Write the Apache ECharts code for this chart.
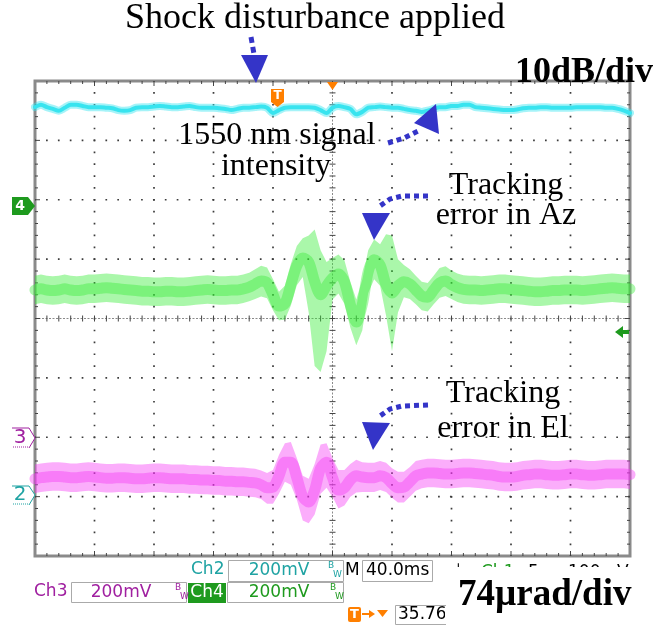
<!DOCTYPE html>
<html><head><meta charset="utf-8">
<script src="https://cdn.jsdelivr.net/npm/echarts@6/dist/echarts.min.js"></script>
<style>html,body{margin:0;padding:0;background:#fff}#c{width:657px;height:628px}</style>
</head><body><div id="c"></div><script>
// time in divisions (40 ms/div), -5..5
const timeDiv = [-5,-4.9,-4.8,-4.7,-4.6,-4.5,-4.4,-4.3,-4.2,-4.1,-4,-3.9,-3.8,-3.7,-3.6,-3.5,-3.4,-3.3,-3.2,-3.1,-3,-2.9,-2.8,-2.7,-2.6,-2.5,-2.4,-2.3,-2.2,-2.1,-2,-1.9,-1.8,-1.7,-1.6,-1.5,-1.4,-1.3,-1.2,-1.1,-1,-0.9,-0.8,-0.7,-0.6,-0.5,-0.4,-0.3,-0.2,-0.1,0,0.1,0.2,0.3,0.4,0.5,0.6,0.7,0.8,0.9,1,1.1,1.2,1.3,1.4,1.5,1.6,1.7,1.8,1.9,2,2.1,2.2,2.3,2.4,2.5,2.6,2.7,2.8,2.9,3,3.1,3.2,3.3,3.4,3.5,3.6,3.7,3.8,3.9,4,4.1,4.2,4.3,4.4,4.5,4.6,4.7,4.8,4.9,5];
// graticule: major divisions
const gridDivX = [-4,-3,-2,-1,0,1,2,3,4];
const gridDivY = [-3,-2,-1,0,1,2,3];

// 1550 nm signal intensity (divisions)
const cyanLevel = [3.56,3.60,3.56,3.53,3.50,3.55,3.60,3.60,3.58,3.56,3.56,3.56,3.55,3.54,3.51,3.50,3.51,3.55,3.56,3.56,3.57,3.58,3.57,3.56,3.56,3.57,3.58,3.56,3.55,3.55,3.55,3.54,3.53,3.51,3.53,3.55,3.55,3.56,3.57,3.55,3.46,3.51,3.55,3.56,3.56,3.56,3.56,3.55,3.51,3.46,3.55,3.58,3.56,3.53,3.44,3.48,3.55,3.56,3.57,3.56,3.55,3.55,3.53,3.51,3.50,3.48,3.50,3.53,3.56,3.56,3.58,3.58,3.60,3.60,3.56,3.55,3.54,3.53,3.52,3.51,3.51,3.52,3.54,3.55,3.55,3.56,3.56,3.55,3.55,3.55,3.55,3.56,3.56,3.56,3.56,3.56,3.55,3.55,3.53,3.50,3.46];

// Tracking error in Az (Ch4): dense centre and outer envelope (divisions)
const azCenter = [0.48,0.50,0.48,0.47,0.48,0.50,0.48,0.47,0.48,0.50,0.50,0.51,0.52,0.51,0.50,0.49,0.48,0.47,0.46,0.46,0.45,0.45,0.46,0.46,0.45,0.45,0.46,0.47,0.48,0.49,0.48,0.47,0.47,0.48,0.48,0.50,0.53,0.58,0.63,0.60,0.40,0.21,0.25,0.57,0.89,1.02,0.95,0.62,0.40,0.55,0.68,0.75,0.62,0.23,-0.06,0.23,0.79,0.99,0.90,0.57,0.43,0.55,0.62,0.58,0.48,0.38,0.36,0.48,0.60,0.63,0.57,0.52,0.49,0.48,0.48,0.47,0.48,0.49,0.50,0.50,0.49,0.48,0.47,0.46,0.45,0.45,0.46,0.47,0.47,0.48,0.48,0.48,0.47,0.48,0.49,0.50,0.51,0.52,0.51,0.50,0.50];
const azUpper = [0.72,0.74,0.72,0.71,0.72,0.74,0.72,0.71,0.72,0.74,0.74,0.75,0.76,0.75,0.74,0.73,0.72,0.71,0.70,0.70,0.69,0.69,0.70,0.70,0.69,0.69,0.70,0.71,0.72,0.73,0.72,0.71,0.71,0.72,0.72,0.74,0.77,0.83,0.89,0.86,0.66,0.45,0.55,0.92,1.22,1.35,1.40,1.50,1.15,0.95,1.02,1.08,0.98,0.62,0.32,0.65,1.15,1.33,1.25,1.42,1.40,1.00,0.90,0.83,0.72,0.62,0.60,0.72,0.85,0.88,0.81,0.76,0.73,0.72,0.72,0.71,0.72,0.73,0.74,0.74,0.73,0.72,0.71,0.70,0.69,0.69,0.70,0.71,0.71,0.72,0.72,0.72,0.71,0.72,0.73,0.74,0.75,0.76,0.75,0.74,0.74];
const azLower = [0.24,0.26,0.24,0.23,0.24,0.26,0.24,0.23,0.24,0.26,0.26,0.27,0.28,0.27,0.26,0.25,0.24,0.23,0.22,0.22,0.21,0.21,0.22,0.22,0.21,0.21,0.22,0.23,0.24,0.25,0.24,0.23,0.23,0.24,0.24,0.26,0.29,0.33,0.37,0.34,0.14,-0.03,-0.02,0.22,0.56,0.70,0.10,-0.80,-0.90,-0.55,0.32,0.42,0.25,-0.15,-0.45,-0.20,0.43,0.66,0.55,0.05,-0.55,0.10,0.36,0.33,0.24,0.14,0.12,0.24,0.35,0.38,0.33,0.28,0.25,0.24,0.24,0.23,0.24,0.25,0.26,0.26,0.25,0.24,0.23,0.22,0.21,0.21,0.22,0.23,0.23,0.24,0.24,0.24,0.23,0.24,0.25,0.26,0.27,0.28,0.27,0.26,0.26];

// Tracking error in El (Ch3)
const elCenter = [-2.70,-2.68,-2.67,-2.66,-2.66,-2.67,-2.68,-2.68,-2.67,-2.66,-2.67,-2.68,-2.69,-2.69,-2.68,-2.68,-2.69,-2.70,-2.70,-2.69,-2.68,-2.68,-2.69,-2.70,-2.70,-2.70,-2.71,-2.71,-2.72,-2.72,-2.73,-2.73,-2.74,-2.74,-2.75,-2.75,-2.76,-2.77,-2.80,-2.85,-2.84,-2.65,-2.42,-2.42,-2.68,-3.00,-3.09,-2.89,-2.52,-2.42,-2.68,-2.89,-2.85,-2.72,-2.65,-2.67,-2.68,-2.68,-2.65,-2.68,-2.78,-2.85,-2.84,-2.75,-2.65,-2.62,-2.60,-2.60,-2.61,-2.62,-2.62,-2.61,-2.60,-2.60,-2.61,-2.62,-2.63,-2.64,-2.66,-2.67,-2.67,-2.66,-2.64,-2.63,-2.62,-2.62,-2.63,-2.64,-2.64,-2.63,-2.62,-2.62,-2.63,-2.64,-2.64,-2.63,-2.62,-2.62,-2.62,-2.62,-2.63];
const elUpper = [-2.46,-2.44,-2.43,-2.42,-2.42,-2.43,-2.44,-2.44,-2.43,-2.42,-2.43,-2.44,-2.45,-2.45,-2.44,-2.44,-2.45,-2.46,-2.46,-2.45,-2.44,-2.44,-2.45,-2.46,-2.46,-2.46,-2.47,-2.47,-2.48,-2.48,-2.49,-2.49,-2.50,-2.50,-2.51,-2.51,-2.52,-2.53,-2.56,-2.60,-2.55,-2.30,-2.10,-2.08,-2.35,-2.65,-2.70,-2.45,-2.12,-2.10,-2.35,-2.55,-2.55,-2.45,-2.38,-2.42,-2.43,-2.43,-2.40,-2.43,-2.52,-2.58,-2.58,-2.50,-2.40,-2.38,-2.36,-2.36,-2.37,-2.38,-2.38,-2.37,-2.36,-2.36,-2.37,-2.38,-2.39,-2.40,-2.42,-2.43,-2.43,-2.42,-2.40,-2.39,-2.38,-2.38,-2.39,-2.40,-2.40,-2.39,-2.38,-2.38,-2.39,-2.40,-2.40,-2.39,-2.38,-2.38,-2.38,-2.38,-2.39];
const elLower = [-2.94,-2.92,-2.91,-2.90,-2.90,-2.91,-2.92,-2.92,-2.91,-2.90,-2.91,-2.92,-2.93,-2.93,-2.92,-2.92,-2.93,-2.94,-2.94,-2.93,-2.92,-2.92,-2.93,-2.94,-2.94,-2.94,-2.95,-2.95,-2.96,-2.96,-2.97,-2.97,-2.98,-2.98,-2.99,-2.99,-3.00,-3.01,-3.04,-3.12,-3.12,-2.95,-2.75,-2.80,-3.05,-3.40,-3.45,-3.30,-2.95,-2.85,-3.00,-3.20,-3.15,-3.00,-2.93,-2.92,-2.92,-2.92,-2.89,-2.92,-3.02,-3.10,-3.10,-3.00,-2.90,-2.86,-2.84,-2.84,-2.85,-2.86,-2.86,-2.85,-2.84,-2.84,-2.85,-2.86,-2.87,-2.88,-2.90,-2.91,-2.91,-2.90,-2.88,-2.87,-2.86,-2.86,-2.87,-2.88,-2.88,-2.87,-2.86,-2.86,-2.87,-2.88,-2.88,-2.87,-2.86,-2.86,-2.86,-2.86,-2.87];

const CYAN = '#38e4ef';
const BLUE = '#3434c8', ORANGE = '#ff7f00', DKGREEN = '#1e9a1e', TEAL = '#1fa3a3', PURPLE = '#a020a0';
const X0 = -5, X1 = 5, Y0 = -4, Y1 = 4, MINOR = 0.2;

function pairs(v) { return timeDiv.map((t, i) => [t, v[i]]); }
function band(upper, lower, color) {
  return {
    type: 'custom', xAxisIndex: 0, yAxisIndex: 0, silent: true, z: 2,
    data: [[0, 0]],
    renderItem: function (params, api) {
      const pts = [];
      for (let i = 0; i < timeDiv.length; i++) pts.push(api.coord([timeDiv[i], upper[i]]));
      for (let i = timeDiv.length - 1; i >= 0; i--) pts.push(api.coord([timeDiv[i], lower[i]]));
      return { type: 'polygon', shape: { points: pts }, style: { fill: color } };
    }
  };
}
function line(v, color, width) {
  return { type: 'line', xAxisIndex: 0, yAxisIndex: 0, data: pairs(v), symbol: 'none', silent: true,
    smooth: 0.3, lineStyle: { color: color, width: width, join: 'round', cap: 'round' }, z: 3 };
}
// oscilloscope graticule drawn through the axes' scales
const graticule = {
  type: 'custom', xAxisIndex: 0, yAxisIndex: 0, silent: true, z: 1,
  data: [[0, 0]],
  renderItem: function (params, api) {
    const ch = [];
    const dotStyle = { stroke: '#3c3c3c', lineWidth: 1.7, lineDash: [1.7, 10.18], lineDashOffset: 0.85, fill: null };
    const L = (p, q, style) => ch.push({ type: 'line', shape: { x1: p[0], y1: p[1], x2: q[0], y2: q[1] }, style: style });
    gridDivX.forEach(x => { if (x !== 0) L(api.coord([x, Y1]), api.coord([x, Y0]), dotStyle); });
    gridDivY.forEach(y => { if (y !== 0) L(api.coord([X0, y]), api.coord([X1, y]), dotStyle); });
    const cStyle = { stroke: '#8a8a8a', lineWidth: 1, lineDash: [2, 1.5], fill: null };
    L(api.coord([0, Y1]), api.coord([0, Y0]), cStyle);
    L(api.coord([X0, 0]), api.coord([X1, 0]), cStyle);
    const tStyle = { stroke: '#444', lineWidth: 1, fill: null };
    const nx = Math.round((X1 - X0) / MINOR), ny = Math.round((Y1 - Y0) / MINOR);
    for (let k = 1; k < nx; k++) {
      const x = X0 + k * MINOR, major = (k % 5 === 0);
      const b = api.coord([x, Y0]), t = api.coord([x, Y1]), c = api.coord([x, 0]);
      const len = major ? 5 : 3;
      L([b[0], b[1]], [b[0], b[1] - len], tStyle);
      L([t[0], t[1]], [t[0], t[1] + len], tStyle);
      L([c[0], c[1] - 3], [c[0], c[1] + 3], tStyle);
    }
    for (let k = 1; k < ny; k++) {
      const y = Y0 + k * MINOR, major = (k % 5 === 0);
      const l = api.coord([X0, y]), r = api.coord([X1, y]), c = api.coord([0, y]);
      const len = major ? 5 : 3;
      L([l[0], l[1]], [l[0] + len, l[1]], tStyle);
      L([r[0], r[1]], [r[0] - len, r[1]], tStyle);
      L([c[0] - 3, c[1]], [c[0] + 3, c[1]], tStyle);
    }
    return { type: 'group', children: ch };
  }
};

const G = [];
function txt(text, x, y, font, fill, align, z) {
  G.push({ type: 'text', x: x, y: y, z: z || 100, silent: true,
    style: { text: text, font: font, fill: fill, align: align || 'left', verticalAlign: 'middle' } });
}
function poly(points, fill, z) { G.push({ type: 'polygon', z: z || 100, silent: true, shape: { points: points }, style: { fill: fill } }); }
function pline(points, stroke, w, dash, z) { G.push({ type: 'polyline', z: z || 100, silent: true, shape: { points: points }, style: { stroke: stroke, lineWidth: w, lineDash: dash || null, fill: null } }); }
function rect(x, y, w, h, fill, stroke, z, r) { G.push({ type: 'rect', z: z || 100, silent: true, shape: { x: x, y: y, width: w, height: h, r: r || 0 }, style: { fill: fill, stroke: stroke || null, lineWidth: 1 } }); }

const SERIF = '"Liberation Serif","Times New Roman",serif';
const SANS = '"DejaVu Sans",sans-serif';
// annotations
txt('Shock disturbance applied', 315, 19, '36px ' + SERIF, '#000', 'center');
txt('10dB/div', 515, 73, 'bold 36px ' + SERIF, '#000', 'left');
txt('1550 nm signal', 277, 136, '32px ' + SERIF, '#000', 'center');
txt('intensity', 276, 167, '32px ' + SERIF, '#000', 'center');
txt('Tracking', 506, 186, '32px ' + SERIF, '#000', 'center');
txt('error in Az', 506, 216, '32px ' + SERIF, '#000', 'center');
txt('Tracking', 503, 394, '32px ' + SERIF, '#000', 'center');
txt('error in El', 503, 429, '32px ' + SERIF, '#000', 'center');
// blue arrows
pline([[251, 37], [254, 54]], BLUE, 5, [6, 4]);
poly([[241, 55], [268, 55], [256, 83]], BLUE);
pline([[388, 143], [404, 138], [418, 131]], BLUE, 5, [5, 4]);
poly([[436, 104], [414, 123], [439, 134]], BLUE);
pline([[428, 196], [402, 196], [390, 199], [380, 206]], BLUE, 5, [5, 4]);
poly([[362, 213], [390, 213], [374, 240]], BLUE);
pline([[428, 405], [402, 406], [390, 409], [380, 416]], BLUE, 5, [5, 4]);
poly([[362, 422], [390, 423], [373, 450]], BLUE);

// scope markers
poly([[271, 89], [284, 89], [284, 102], [277.5, 107], [271, 102]], ORANGE);
txt('T', 277.5, 96, 'bold 12px ' + SANS, '#fff', 'center', 101);
poly([[327, 82], [338, 82], [332.5, 90]], ORANGE);
poly([[12, 197], [28, 197], [35, 206], [28, 215], [12, 215]], DKGREEN);
txt('4', 20, 206, 'bold 14px ' + SANS, '#fff', 'center', 101);
poly([[12, 428], [29, 428], [35, 438], [29, 448], [12, 448]], '#fff');
pline([[12, 428], [29, 428], [35, 438], [29, 448]], PURPLE, 1);
pline([[13, 447], [28, 447]], PURPLE, 1, [1, 1]);
txt('3', 20, 438, '20px ' + SANS, PURPLE, 'center', 101);
poly([[12, 486], [29, 486], [35, 495], [29, 505], [12, 505]], '#fff');
pline([[12, 486], [29, 486], [35, 495], [29, 505]], TEAL, 1);
pline([[13, 504], [28, 504]], TEAL, 1, [1, 1]);
txt('2', 20, 495, '20px ' + SANS, TEAL, 'center', 101);
poly([[615, 332], [623, 326], [623, 330], [629, 330], [629, 334], [623, 334], [623, 338]], DKGREEN);

// bottom readout
txt('\u02C8', 456, 573, '17px ' + SANS, '#000', 'left', 90);
txt('Ch1', 481, 573, '17px ' + SANS, DKGREEN, 'left', 90);
txt('5', 528, 573, '17px ' + SANS, '#000', 'left', 90);
txt('100mV', 568, 573, '17px ' + SANS, '#000', 'left', 90);
rect(440, 567, 217, 61, '#fff', null, 95);
txt('Ch2', 191, 570, '17px ' + SANS, TEAL, 'left');
rect(228.5, 560.5, 115, 21, '#fff', '#aaa');
txt('200mV', 279, 571, '17px ' + SANS, TEAL, 'center', 101);
txt('B', 328, 566, '9px ' + SANS, TEAL, 'left', 101);
txt('W', 333, 575, '9px ' + SANS, TEAL, 'left', 101);
txt('M', 345, 571, '17px ' + SANS, '#000', 'left');
rect(362.5, 560.5, 70, 21, '#fff', '#aaa');
txt('40.0ms', 366, 571, '17px ' + SANS, '#000', 'left', 101);
txt('Ch3', 34, 592, '17px ' + SANS, PURPLE, 'left');
rect(71.5, 582.5, 115, 20, '#fff', '#aaa');
txt('200mV', 121, 593, '17px ' + SANS, PURPLE, 'center', 101);
txt('B', 175, 588, '9px ' + SANS, PURPLE, 'left', 101);
txt('W', 180, 597, '9px ' + SANS, PURPLE, 'left', 101);
rect(188, 583, 38, 20, DKGREEN);
txt('Ch4', 207, 593, '17px ' + SANS, '#fff', 'center', 101);
rect(227.5, 582.5, 116, 20, '#fff', '#aaa');
txt('200mV', 279, 593, '17px ' + SANS, DKGREEN, 'center', 101);
txt('B', 330, 588, '9px ' + SANS, DKGREEN, 'left', 101);
txt('W', 335, 597, '9px ' + SANS, DKGREEN, 'left', 101);
rect(348, 607, 13, 15, ORANGE, null, 100, 2);
txt('T', 354.5, 615, 'bold 13px ' + SANS, '#fff', 'center', 101);
pline([[362, 614], [372, 614]], ORANGE, 2);
poly([[369, 610], [375, 614], [369, 618]], ORANGE);
poly([[377, 610], [388, 610], [382.5, 617]], ORANGE);
txt('35.76', 398, 615, '17px ' + SANS, '#000', 'left', 101);
rect(445, 600, 13, 28, '#fff', null, 102);
pline([[446, 605.5], [395.5, 605.5], [395.5, 624.5], [446, 624.5]], '#aaa', 1, null, 103);
txt('74\u00B5rad/div', 458, 595, 'bold 37px ' + SERIF, '#000', 'left', 110);

const chart = echarts.init(document.getElementById('c'), null, { renderer: 'canvas' });
chart.setOption({
  animation: false,
  backgroundColor: '#fff',
  grid: { left: 35, top: 81, width: 595, height: 475, show: true, borderColor: '#8a8a8a', borderWidth: 3, backgroundColor: 'transparent' },
  xAxis: { type: 'value', min: X0, max: X1, interval: 1, axisLine: { show: false, onZero: false }, axisTick: { show: false }, axisLabel: { show: false }, splitLine: { show: false } },
  yAxis: { type: 'value', min: Y0, max: Y1, interval: 1, axisLine: { show: false, onZero: false }, axisTick: { show: false }, axisLabel: { show: false }, splitLine: { show: false } },
  series: [
    graticule,
    band(azUpper, azLower, 'rgba(52,236,52,0.42)'),
    line(azCenter, 'rgba(52,236,52,0.4)', 11),
    band(elUpper, elLower, 'rgba(244,50,244,0.40)'),
    line(elCenter, 'rgba(244,50,244,0.4)', 11),
    line(cyanLevel, 'rgba(56,228,239,0.45)', 8),
    line(cyanLevel, CYAN, 4)
  ],
  graphic: G
});
</script></body></html>
